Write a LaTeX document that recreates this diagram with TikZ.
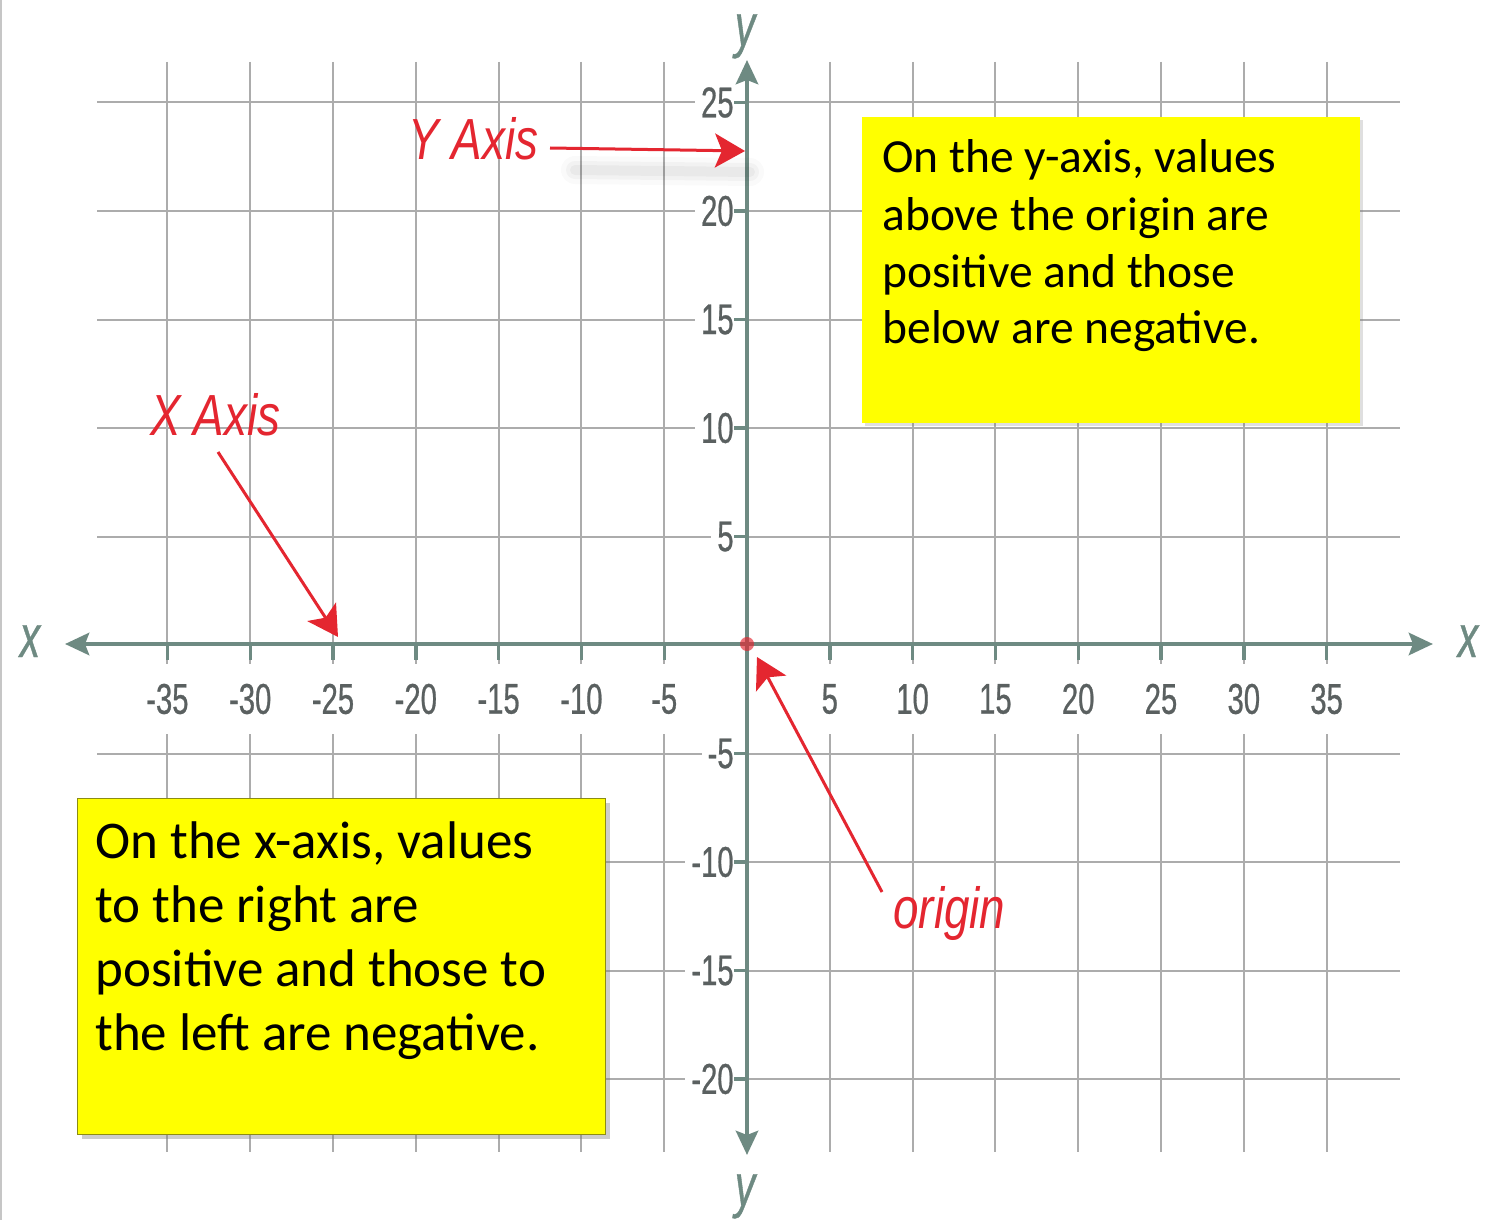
\documentclass[tikz,border=0pt]{standalone}
\usepackage{fontspec}
\setmainfont{Liberation Sans}
\newfontfamily\boxfont{Carlito}
\newfontfamily\tickfont[FakeStretch=0.68,FakeBold=0.6]{Liberation Sans}
\newfontfamily\redfont[FakeStretch=0.79]{Liberation Sans}
\usetikzlibrary{arrows.meta,shadows}
\definecolor{axiscol}{RGB}{110,138,130}
\definecolor{gridcol}{RGB}{172,172,172}
\definecolor{ticktext}{RGB}{90,96,96}
\definecolor{redcol}{RGB}{228,38,48}
\definecolor{boxyellow}{RGB}{255,255,0}
\definecolor{boxborder}{RGB}{140,140,20}
\tikzset{
  gridline/.style={draw=gridcol, line width=1pt},
  axisline/.style={draw=axiscol, line width=2.4pt, {Stealth[length=12pt,width=11pt,inset=2pt]}-{Stealth[length=12pt,width=11pt,inset=2pt]}},
  tickmark/.style={draw=axiscol, line width=1.7pt},
  xticklab/.style={fill=white, inner xsep=2pt, inner ysep=0pt, minimum height=35pt, text=ticktext, font=\tickfont\fontsize{21.5}{23}\selectfont},
  yticklab/.style={fill=white, anchor=east, inner xsep=0pt, inner ysep=2pt, text=ticktext, font=\tickfont\fontsize{21.5}{23}\selectfont},
  axisname/.style={text=axiscol, inner sep=0pt, anchor=base, font=\tickfont\itshape\fontsize{30}{32}\selectfont},
  redlabel/.style={text=redcol, inner sep=0pt, anchor=base west, font=\redfont\itshape\fontsize{29}{31}\selectfont},
  redarrow/.style={draw=redcol, line width=1.5pt, -{Stealth[length=15pt,width=17pt,inset=3.5pt]}},
  notebox/.style={fill=boxyellow, anchor=north west, inner sep=0pt},
  toptext/.style={anchor=base west, inner sep=0pt, font=\boxfont\fontsize{23.75}{28}\selectfont},
  bottext/.style={anchor=base west, inner sep=0pt, font=\boxfont\fontsize{26.5}{31}\selectfont},
  softshadow/.style={black, line cap=round},
}
\begin{document}
\begin{tikzpicture}[x=0.5pt,y=-0.5pt]
\useasboundingbox (0,0) rectangle (1489,1220);
\fill[white] (0,0) rectangle (1489,1220);
\draw[gray!45, line width=1pt] (1,0) -- (1,1220);
% grid
\foreach \v in {-35,-30,...,-5,5,10,...,35}{
  \draw[gridline] ({747+16.56*\v},62) -- ({747+16.56*\v},1152);
}
\foreach \v in {25,20,...,5,-5,-10,...,-20}{
  \draw[gridline] (97,{645-21.7*\v}) -- (1400,{645-21.7*\v});
}
% axes
\draw[axisline] (65,644) -- (1433,644);
\draw[axisline] (747,1155) -- (747,60);
% ticks and labels
\foreach \v in {-35,-30,...,-5,5,10,...,35}{
  \draw[tickmark] ({747+16.56*\v},644) -- ({747+16.56*\v},660);
  \node[xticklab] (xl\v) at ({747+16.56*\v},699) {\v};
}
\foreach \v in {25,20,...,5,-5,-10,...,-20}{
  \draw[tickmark] (734,{645-21.7*\v}) -- (747,{645-21.7*\v});
  \node[yticklab] (yl\v) at (734,{645-21.7*\v}) {\hspace{3pt}\v\hspace{6.5pt}};
}
\node[axisname] (xleft) at (30,657) {x};
\node[axisname] (xright) at (1468,657) {x};
\node[axisname] (ytop) at (745,46) {y};
\node[axisname] (ybot) at (745,1206) {y};
% note boxes
\node[notebox, minimum width=249pt, minimum height=153pt,
      drop shadow={shadow xshift=1.5pt, shadow yshift=-1.5pt, opacity=0.25}] (ybox) at (862,117) {};
\node[notebox, draw=boxborder, line width=0.6pt, minimum width=264pt, minimum height=168pt,
      drop shadow={shadow xshift=2pt, shadow yshift=-2pt, opacity=0.4}] (xbox) at (77,798) {};
\node[toptext] (t1) at (882,173) {On the y-axis, values};
\node[toptext] (t2) at (882,230) {above the origin are};
\node[toptext] (t3) at (882,287) {positive and those};
\node[toptext] (t4) at (882,343) {below are negative.};
\node[bottext] (b1) at (95,858) {On the x-axis, values};
\node[bottext] (b2) at (95,922) {to the right are};
\node[bottext] (b3) at (95,986) {positive and those to};
\node[bottext] (b4) at (95,1050) {the left are negative.};
% red annotations
\foreach \w/\o in {14/0.02,9/0.03,5/0.035}{
  \draw[softshadow, line width=\w pt, opacity=\o] (575,170) -- (750,172);
}
\node[circle, fill=redcol, opacity=0.65, minimum size=7pt, inner sep=0pt] (orig) at (747,644) {};
\node[redlabel] (ylab) at (408,160) {Y Axis};
\node[redlabel] (xlab) at (150,435) {X Axis};
\node[redlabel] (olab) at (893,928) {origin};
\coordinate (ytail) at (550,148);
\coordinate (ytip) at (745,151);
\coordinate (xtail) at (218,452);
\coordinate (xtip) at (338,637);
\coordinate (otail) at (882,892);
\coordinate (otip) at (757,657);
\draw[redarrow] (ytail) -- (ytip);
\draw[redarrow] (xtail) -- (xtip);
\draw[redarrow] (otail) -- (otip);
\end{tikzpicture}
\end{document}
